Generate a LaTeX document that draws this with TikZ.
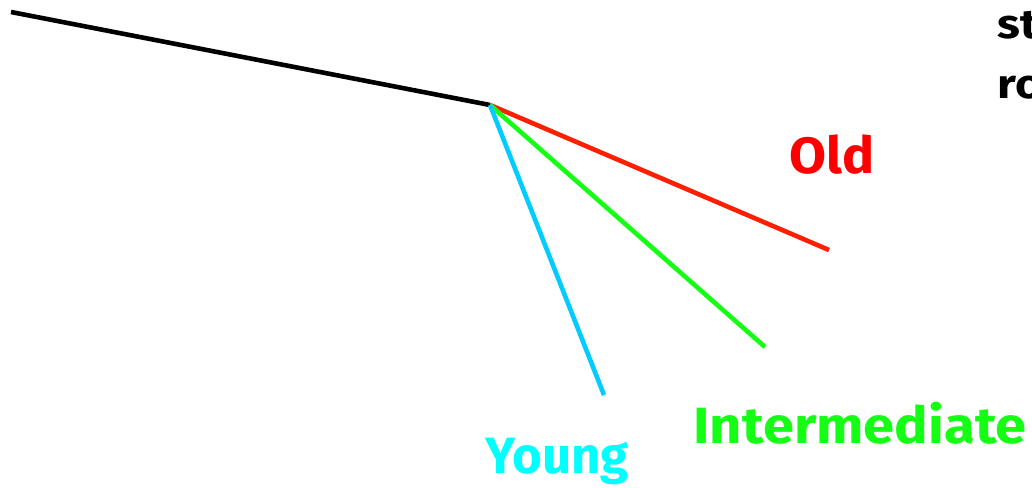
\documentclass[tikz,border=0pt]{standalone}
\usepackage{fontspec}
\setmainfont{Fira Sans}
\usepackage{tikz}

\definecolor{oldred}{RGB}{255,30,0}
\definecolor{midgreen}{RGB}{20,255,20}
\definecolor{younglinecyan}{RGB}{0,204,255}
\definecolor{youngcyan}{RGB}{0,255,255}

\begin{document}
\begin{tikzpicture}[x=1pt,y=-1pt,line width=4.6pt,
    branch/.style={line cap=butt},
    agelabel/.style={anchor=base west,inner sep=0pt,font=\fontsize{51}{51}\selectfont\bfseries},
    sidelabel/.style={anchor=base west,inner sep=0pt,xscale=1.15,font=\fontsize{41}{41}\selectfont\bfseries}]
  \useasboundingbox (0,0) rectangle (1032,487);
  \clip (0,0) rectangle (1032,487);
  \coordinate (stem) at (11,12);
  \coordinate (split) at (490,105);
  \coordinate (oldend) at (829,250);
  \coordinate (midend) at (765,347);
  \coordinate (youngend) at (604,395);
  \draw[branch,black] (stem) -- (split);
  \draw[branch,oldred] (split) -- (oldend);
  \draw[branch,midgreen] (split) -- (midend);
  \draw[branch,younglinecyan] (split) -- (youngend);
  \node[agelabel,text=red,xscale=1.05] (oldlab) at (787,173) {Old};
  \node[agelabel,text=midgreen,xscale=1.1] (midlab) at (691,443) {Intermediate};
  \node[agelabel,text=youngcyan] (younglab) at (483,473) {Young};
  \node[sidelabel] (toplab) at (995,38) {st};
  \node[sidelabel] (rolab) at (995,98) {ro};
\end{tikzpicture}
\end{document}
